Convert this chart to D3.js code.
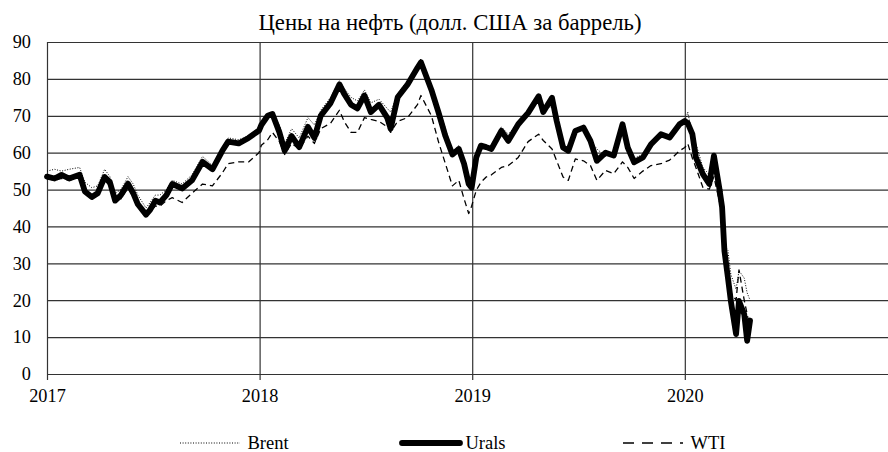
<!DOCTYPE html>
<html>
<head>
    <meta charset="utf-8">
    <title>Цены на нефть</title>
    <script src="https://d3js.org/d3.v7.min.js"></script>
    <style>
        body { margin: 0; background: #fff; }
        .axis .domain { display: none; }
        .grid line { stroke: #333; stroke-width: 1.2; }
        .grid .domain { display: none; }
    </style>
</head>
<body>
    <svg width="888" height="452"></svg>
    <script>
        // dates of the readings and the three price series (USD per barrel)
        var dates = [
            "2017-01-01","2017-01-14","2017-01-26","2017-02-08","2017-02-26","2017-03-07","2017-03-19","2017-03-29",
            "2017-04-10","2017-04-19","2017-04-28","2017-05-08","2017-05-20","2017-05-29","2017-06-06","2017-06-20",
            "2017-06-27","2017-07-06","2017-07-14","2017-07-25","2017-08-04","2017-08-21","2017-09-07","2017-09-25",
            "2017-10-12","2017-10-29","2017-11-08","2017-11-26","2017-12-13","2017-12-31",
            "2018-01-04","2018-01-15","2018-01-23","2018-02-04","2018-02-13","2018-02-25","2018-03-10","2018-03-25",
            "2018-04-05","2018-04-16","2018-05-03","2018-05-18","2018-05-26","2018-06-07","2018-06-18","2018-06-30",
            "2018-07-11","2018-07-25","2018-08-08","2018-08-14","2018-08-26","2018-09-12","2018-09-29","2018-10-05",
            "2018-10-23","2018-11-04","2018-11-16","2018-11-28","2018-12-09","2018-12-18","2018-12-26","2018-12-31",
            "2019-01-08","2019-01-16","2019-01-25","2019-02-03","2019-02-20","2019-03-04","2019-03-21","2019-04-07",
            "2019-04-25","2019-05-03","2019-05-18","2019-05-26","2019-06-06","2019-06-15","2019-06-27","2019-07-11",
            "2019-07-23","2019-08-03","2019-08-18","2019-09-01","2019-09-16","2019-09-25","2019-10-06","2019-10-21",
            "2019-11-04","2019-11-21","2019-12-06","2019-12-23","2020-01-01",
            "2020-01-06","2020-01-14","2020-01-20","2020-02-01","2020-02-12","2020-02-20","2020-02-29","2020-03-05",
            "2020-03-09","2020-03-15","2020-03-20","2020-03-29","2020-04-03","2020-04-12","2020-04-17","2020-04-22"
        ];
        var urals = [
            53.5, 53, 54, 53, 54, 49.5, 48, 49,
            53.4, 52, 47, 48.5, 51.6, 49, 46, 43.2,
            44.5, 47, 46.5, 48.5, 51.5, 50.3, 52.5, 57.5,
            55.5, 60.5, 63, 62.5, 64, 66,
            67.5, 70, 70.5, 65.5, 60.5, 64.5, 61.5, 67,
            64, 70, 73.5, 78.5, 76, 73, 72, 75.5,
            71, 73, 69.5, 66.5, 75, 78.5, 83, 84.5,
            77, 71, 64.5, 59.5, 61, 57, 51.5, 50.5,
            58.7, 61.9, 61.5, 61, 65.9, 63.2, 67.7, 70.8,
            75.3, 71, 74.9, 68.6, 61.4, 60.5, 65.9, 66.8,
            63.2, 57.8, 60, 59.2, 67.7, 61.4, 57.4, 58.7,
            62.3, 65, 64.1, 67.7, 68.6,
            68, 65, 58.7, 54.2, 51.5, 59.2, 50.6, 45.2,
            33.4, 26.1, 19.8, 10.8, 19.8, 16.2, 9, 14.5
        ];
        var brent = [
            55, 55.5, 55, 55.5, 56, 52, 50.5, 51,
            55.5, 53.5, 49, 50, 53.5, 51.5, 48.5, 45,
            46.5, 48.5, 48.5, 50, 52.5, 51.5, 54, 59,
            56.5, 61, 64, 63.5, 64.5, 67,
            68, 70, 70.5, 67.5, 62.5, 66.5, 64, 69.5,
            67.5, 71.5, 75, 79.5, 77.5, 75, 74, 77,
            73.5, 74.5, 72, 71, 76, 79.5, 83.5, 85.5,
            78, 72.5, 66.5, 60, 62, 57.5, 52, 52,
            59.5, 62, 61.5, 62, 67, 65, 68, 71,
            75.5, 72, 72.5, 69, 62, 61.5, 66, 67,
            63.5, 61, 59, 60, 68, 62.5, 58.5, 59.5,
            62.5, 64, 64.5, 68.5, 68,
            71, 65, 62.5, 56, 54, 59, 51.5, 50,
            35, 33.5, 27, 23, 28, 26, 22, 20
        ];
        var wti = [
            53, 52.5, 53, 52.5, 53.5, 50, 48, 49.5,
            52.5, 51, 48, 47.5, 50.5, 48.5, 46.5, 43,
            44, 45.5, 45.5, 47, 47.8, 46.5, 49, 51.5,
            51, 54.5, 57, 57.5, 57.5, 60,
            62, 63.5, 65.5, 63, 59.5, 62.5, 61, 64.5,
            62.5, 66.5, 68, 71.5, 68.5, 65.5, 65.5, 69.5,
            69, 68.5, 67, 65.5, 68.5, 69.5, 73, 75.5,
            70, 63, 57, 51, 52.5, 47.5, 43.5, 45.5,
            49.8, 52, 53.4, 54, 56, 56.5, 58.7, 63,
            65, 63.3, 61, 57.8, 53.4, 52.5, 58.3, 57.8,
            56.5, 52.5, 55.2, 54.3, 57.5, 56, 53, 55,
            56.5, 57, 58, 60.5, 61.4,
            62.5, 58.5, 56, 50.6, 50.1, 53.5, 47, 44,
            31, 29, 22, 20, 28.2, 20, 16.3, 12
        ];
        var yTicks = [0, 10, 20, 30, 40, 50, 60, 70, 80, 90];
        var xTicks = ["2017-01-01", "2018-01-01", "2019-01-01", "2020-01-01"];
        var legendNames = ["Brent", "Urals", "WTI"];

        var FONT = "Liberation Serif";
        var parse = d3.timeParse("%Y-%m-%d");
        var svg = d3.select("svg"),
            margin = {top: 42, left: 47},
            width = 851,   // plot runs to 2021, past the right edge of the picture
            height = 332;

        var x = d3.scaleTime()
            .domain([parse("2017-01-01"), parse("2021-01-01")])
            .range([0, width]);
        var y = d3.scaleLinear().domain([0, 90]).range([height, 0]);

        var g = svg.append("g").attr("transform", "translate(" + margin.left + "," + margin.top + ")");

        svg.append("text")
            .attr("x", 450)
            .attr("y", 30)
            .attr("text-anchor", "middle")
            .style("font-size", "22.7px")
            .text("Цены на нефть (долл. США за баррель)");

        // horizontal grid + y labels
        g.append("g")
            .attr("class", "axis grid")
            .call(d3.axisLeft(y).tickValues(yTicks).tickSize(-width).tickPadding(16));

        // vertical grid at year starts
        var yearDates = xTicks.map(parse);
        g.append("g")
            .attr("class", "grid")
            .attr("transform", `translate(0,${height})`)
            .call(d3.axisBottom(x).tickValues(yearDates).tickSize(-height).tickFormat(""));

        // x axis ticks sticking out below zero line, with labels
        g.append("g")
            .attr("class", "axis grid")
            .attr("transform", `translate(0,${height})`)
            .call(d3.axisBottom(x).tickValues(yearDates).tickSizeInner(6).tickSizeOuter(0)
                .tickPadding(9).tickFormat(d3.timeFormat("%Y")));

        g.selectAll(".axis text").style("font-size", "18.3px");

        var series = [
            {name: "Brent", values: brent, width: 1, dash: "1,1.6", cap: "butt"},
            {name: "Urals", values: urals, width: 5.8, dash: null, cap: "round"},
            {name: "WTI", values: wti, width: 1.3, dash: "6,4", cap: "butt"}
        ];

        var line = d3.line()
            .x(d => x(d.date))
            .y(d => y(d.value));

        // draw Urals first, then WTI, Brent on top so the thin lines stay visible
        [series[1], series[2], series[0]].forEach(function(s) {
            var pts = dates.map((d, i) => ({date: parse(d), value: s.values[i]}));
            g.append("path")
                .datum(pts)
                .attr("fill", "none")
                .attr("stroke", "#000")
                .attr("stroke-width", s.width)
                .attr("stroke-linejoin", "round")
                .attr("stroke-linecap", s.cap)
                .attr("stroke-dasharray", s.dash)
                .attr("d", line);
        });

        // Legend
        var legendX = [180, 402, 623];
        var legend = svg.append("g")
            .selectAll("g")
            .data(series)
            .enter().append("g")
            .attr("transform", (d, i) => `translate(${legendX[i]}, 443)`);

        legend.append("line")
            .attr("x1", 0)
            .attr("x2", d => d.name === "Urals" ? 58 : 60)
            .attr("stroke", "#000")
            .attr("stroke-width", d => d.width === 1 ? 1.2 : d.width)
            .attr("stroke-linecap", d => d.cap)
            .attr("stroke-dasharray", d => d.name === "WTI" ? "11,8" : d.dash);

        legend.append("text")
            .attr("x", d => d.name === "Urals" ? 63.5 : 67.5)
            .attr("y", 6)
            .style("font-size", "18.5px")
            .text((d, i) => legendNames[i]);

        svg.selectAll("text").style("font-family", FONT).style("fill", "#000");
    </script>
</body>
</html>
